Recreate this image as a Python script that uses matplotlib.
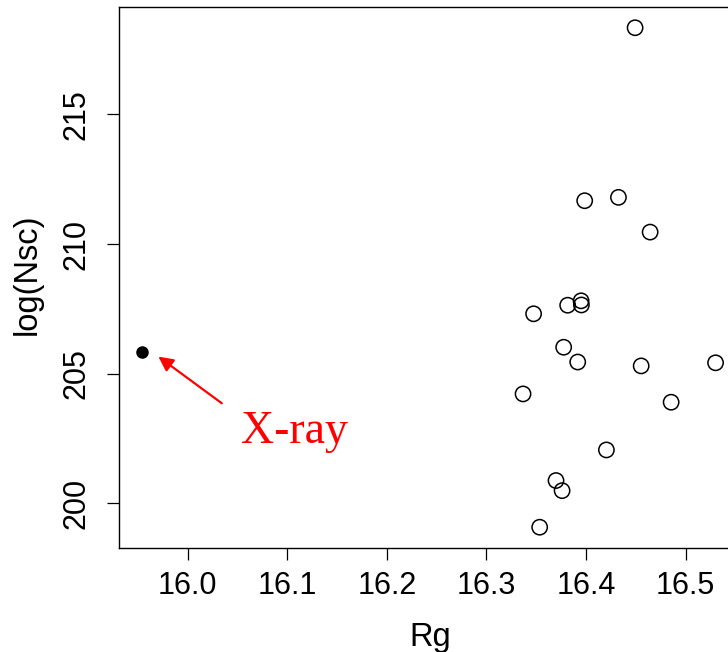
# -*- coding: utf-8 -*-
"""
Scatter of log(Nsc) against Rg, with the X-ray point marked.
"""
import matplotlib
matplotlib.use('Agg')
import matplotlib.pyplot as plt

# open circles (other methods)
rg = [16.4492, 16.3986, 16.4325, 16.4643, 16.3950, 16.3953, 16.3815,
      16.3473, 16.3775, 16.3916, 16.4553, 16.5300, 16.3367, 16.4854,
      16.4204, 16.3698, 16.3759, 16.3534]
log_nsc = [218.34, 211.67, 211.80, 210.46, 207.81, 207.65, 207.64,
           207.31, 206.02, 205.45, 205.30, 205.42, 204.22, 203.90,
           202.06, 200.88, 200.49, 199.08]

# filled point (X-ray)
xray_rg = [15.9538]
xray_nsc = [205.83]

x_ticks = [16.0, 16.1, 16.2, 16.3, 16.4, 16.5]
x_ticklabels = ['16.0', '16.1', '16.2', '16.3', '16.4', '16.5']
y_ticks = [200, 205, 210, 215]

W, H = 728, 652
fig = plt.figure(figsize=(W / 100, H / 100), dpi=100)
# axes box in pixels: left 119, right ~730 (cut off), top 7, bottom 547.7
ax = fig.add_axes([119 / W, (H - 547.7) / H, (730 - 119) / W, (547.7 - 7) / H])

ax.scatter(rg, log_nsc, s=11**2, facecolors='none', edgecolors='black',
           linewidths=1.1, zorder=3)
ax.scatter(xray_rg, xray_nsc, s=8**2, color='black', zorder=3)

ax.annotate('', xy=(15.9705, 205.66), xytext=(16.0342, 203.86),
            arrowprops=dict(arrowstyle='-|>', color='red', lw=1.6,
                            mutation_scale=22, shrinkA=0, shrinkB=0))
ax.text(16.0530, 202.32, 'X-ray', color='red', fontsize=33,
        family='Liberation Serif', ha='left', va='baseline')

ax.set_xlim(15.9310, 16.5445)
ax.set_ylim(198.29, 219.14)
ax.set_xticks(x_ticks)
ax.set_xticklabels(x_ticklabels)
ax.set_yticks(y_ticks)
for lab in ax.get_yticklabels():
    lab.set_rotation(90)
    lab.set_va('center')

ax.tick_params(direction='out', length=8.6, width=0.9,
               labelsize=22, labelfontfamily='Liberation Sans')
ax.tick_params(axis='x', pad=8.5)
ax.tick_params(axis='y', pad=11)
for side in ['left', 'bottom', 'top']:
    ax.spines[side].set_linewidth(1.0)
ax.spines['right'].set_visible(False)

fig.text(430 / W, 1 - 646 / H, 'Rg', fontsize=23.5, family='Liberation Sans',
         ha='center', va='baseline')
fig.text(27 / W, 1 - 274.5 / H, 'log(Nsc)', fontsize=23.5,
         family='Liberation Sans', rotation=90, ha='center', va='center')

fig.savefig('out.png', dpi=100)
